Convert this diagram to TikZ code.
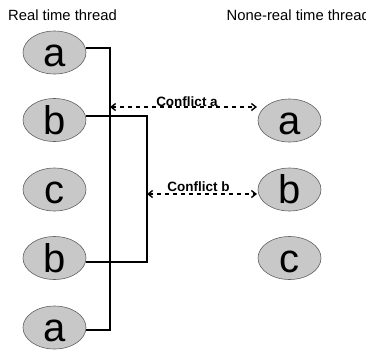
\documentclass[tikz,border=0pt]{standalone}
\usepackage{fontspec}
\setmainfont{Liberation Sans}
\usetikzlibrary{shapes.geometric,arrows.meta}
\definecolor{ellfill}{HTML}{C8C8C8}
\definecolor{ellline}{HTML}{606060}
\tikzset{
  task/.style={ellipse,draw=ellline,fill=ellfill,line width=0.6pt,
    minimum width=63pt,minimum height=43pt,inner sep=0pt,
    text height=28pt,text depth=0pt,font=\fontsize{40}{40}\selectfont},
  title/.style={anchor=base west,font=\fontsize{14.8}{16}\selectfont,inner sep=0pt},
  wire/.style={line width=1.3pt,black},
  conflict/.style={dashed,dash pattern=on 4.5pt off 3.5pt,line width=1.4pt,
    {Straight Barb[length=4.5pt,width=7pt]}-{Straight Barb[length=4.5pt,width=7pt]}},
  clabel/.style={anchor=base,font=\bfseries\fontsize{13.5}{15}\selectfont,inner sep=0pt}
}
\begin{document}
\begin{tikzpicture}[x=1pt,y=-1pt]
\useasboundingbox (0,0) rectangle (366,349);
\node[title] (t1) at (8,20.7) {Real time thread};
\node[title] (t2) at (226.5,20.7) {None-real time thread};
\node[task] (a1) at (54.5,52.5) {a};
\node[task] (b1) at (54.5,120) {b};
\node[task] (c1) at (54.5,189.5) {c};
\node[task] (b2) at (54.5,258) {b};
\node[task] (a2) at (54.5,327.5) {a};
\node[task] (ra) at (289.5,120.5) {a};
\node[task] (rb) at (289.5,189.5) {b};
\node[task] (rc) at (289.5,258) {c};
\coordinate (L1) at (110,48);
\coordinate (L2) at (110,330);
\coordinate (R1) at (147,116);
\coordinate (R2) at (147,262);
\draw[wire] ([yshift=4.5pt]a1.east) -- (L1) -- (L2) -- ([yshift=-2.5pt]a2.east);
\draw[wire] ([yshift=4pt]b1.east) -- (R1) -- (R2) -- ([yshift=-4pt]b2.east);
\coordinate (ca1) at (110,107);
\coordinate (ca2) at (257,107);
\coordinate (cb1) at (147,194);
\coordinate (cb2) at (257,194);
\draw[conflict] (ca1) -- (ca2);
\draw[conflict] (cb1) -- (cb2);
\node[clabel] (la) at (187,106.3) {Conflict a};
\node[clabel] (lb) at (198.5,191.7) {Conflict b};
\end{tikzpicture}
\end{document}
